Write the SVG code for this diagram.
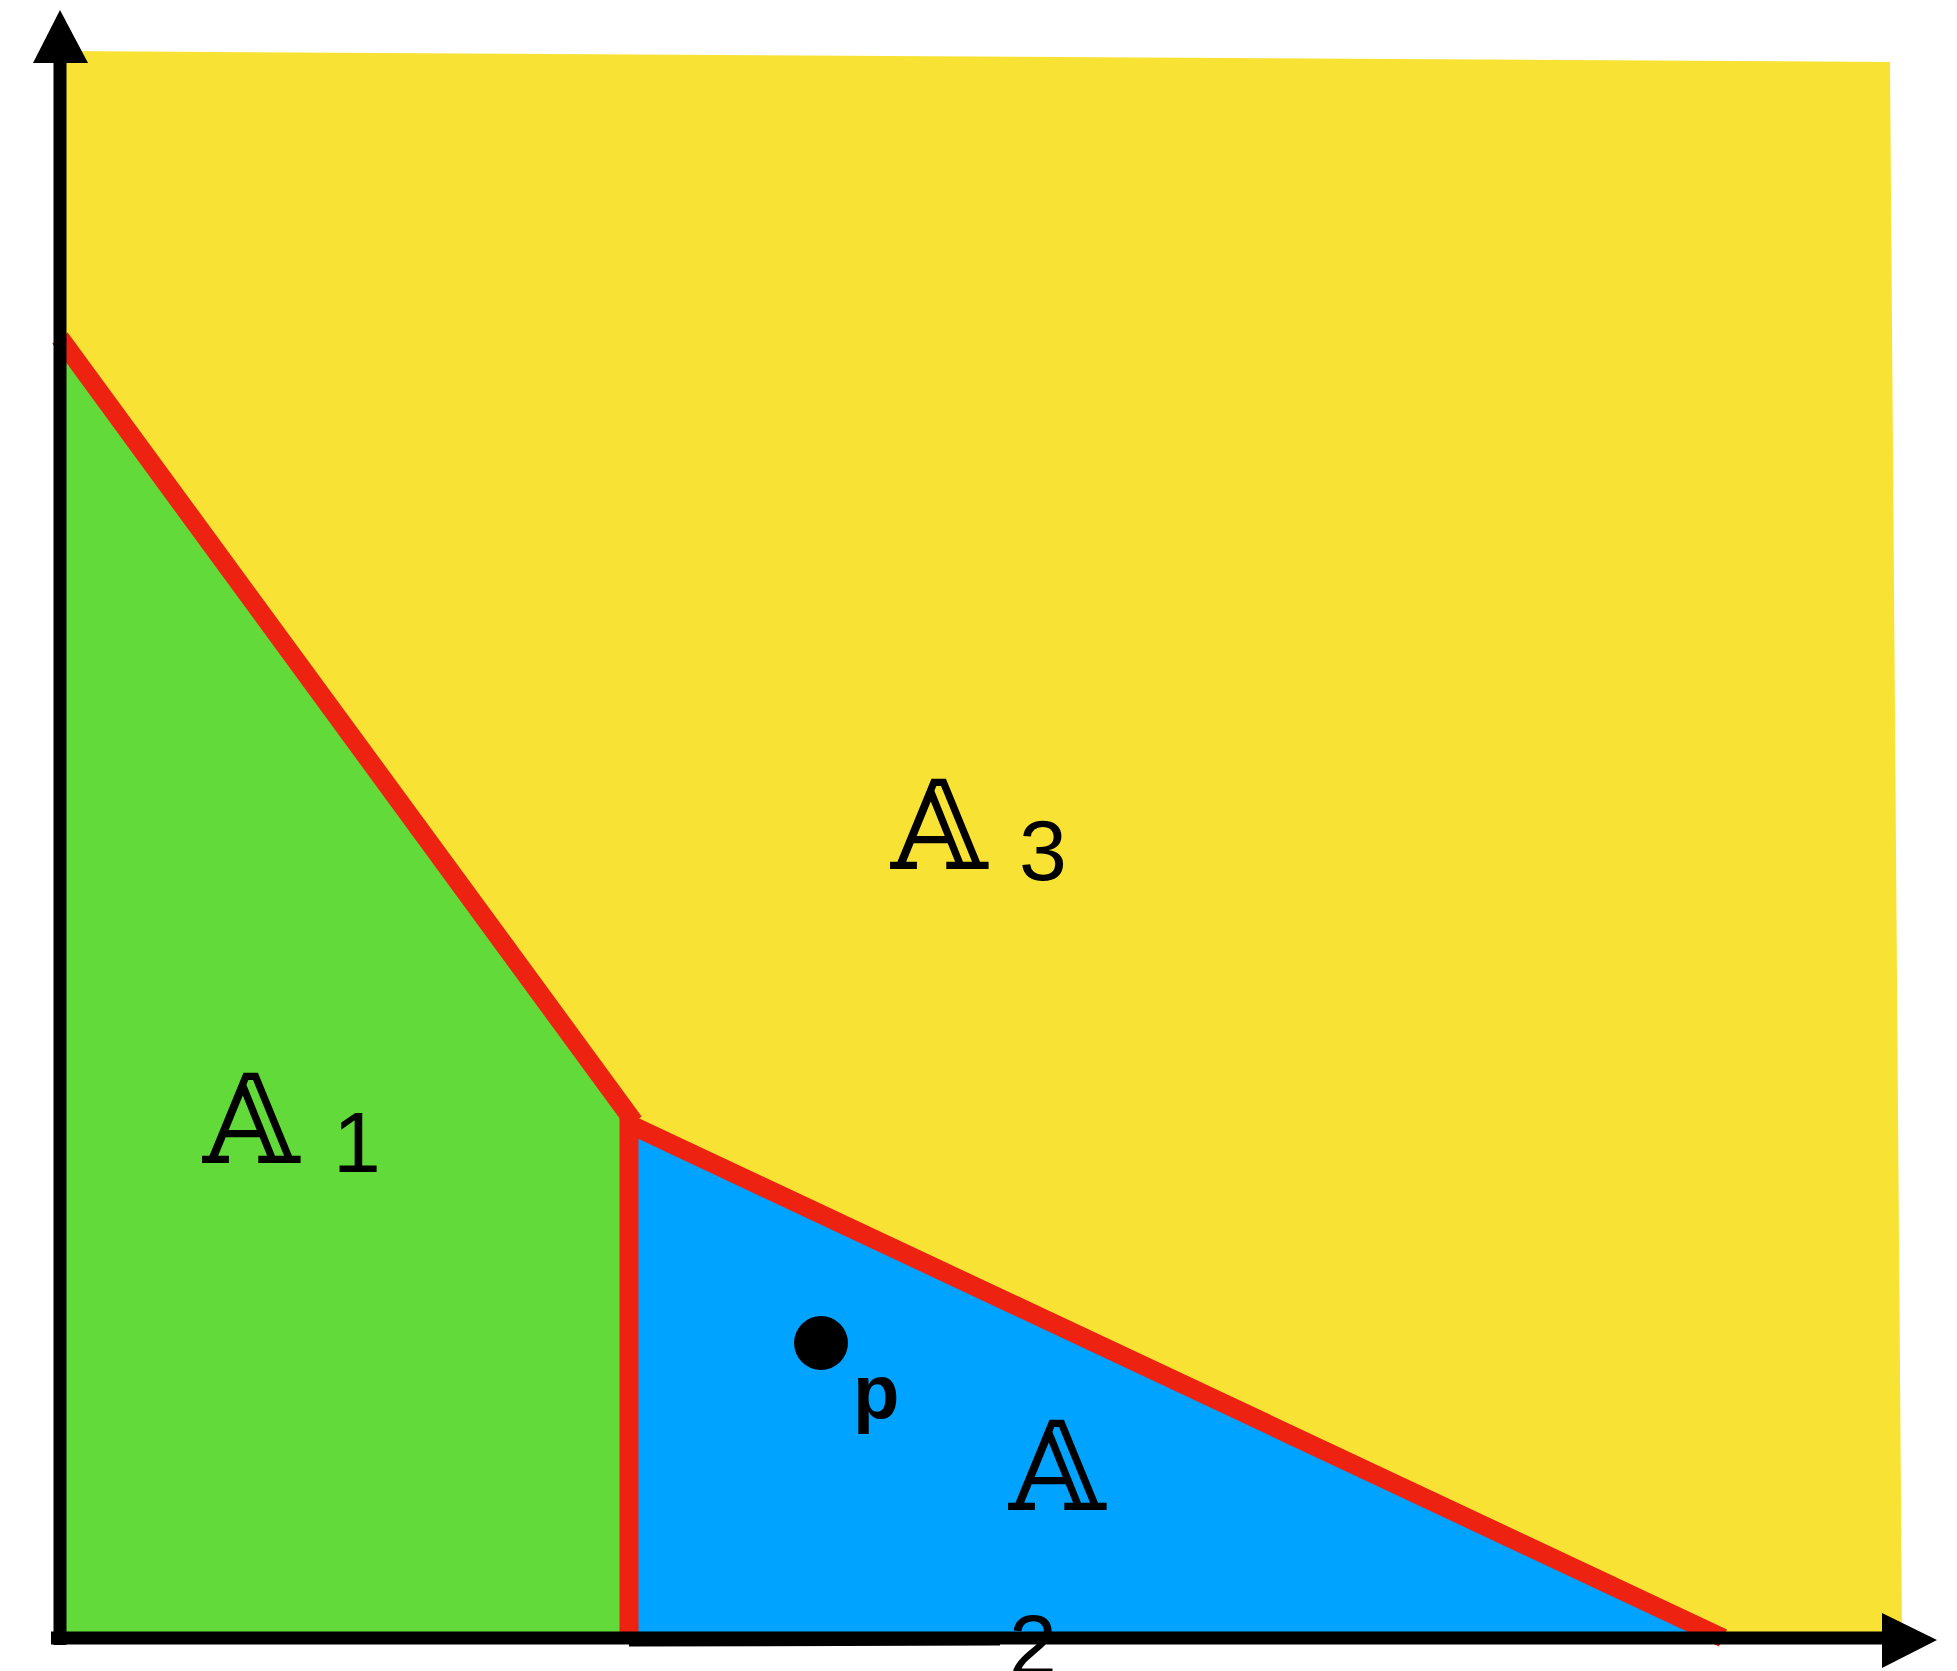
<svg xmlns="http://www.w3.org/2000/svg" width="1957" height="1671" viewBox="0 0 1957 1671">
<style>
.bb{font-family:"DejaVu Serif","DejaVu Sans","Noto Sans",serif;font-size:124px;fill:#000}
.sub{font-family:"Liberation Sans",Arial,sans-serif;font-size:86px;fill:#000}
.red{stroke:#EE2211;stroke-width:19;fill:none}
.ax{stroke:#000;stroke-width:13;fill:none}
</style>
<rect width="1957" height="1671" fill="#fff"/>
<g id="region-A3">
<polygon points="60,51 1890,62 1902,1634 60,1634" fill="#F8E335"/>
<text class="bb" x="891" y="869">𝔸</text>
<text class="sub" x="1019" y="880">3</text>
</g>
<g id="region-A1">
<polygon points="60,338 633,1120 629,1634 60,1634" fill="#61DA3A"/>
<text class="bb" x="203" y="1163">𝔸</text>
<text class="sub" x="333" y="1172">1</text>
</g>
<g id="region-A2">
<polygon points="629,1124 1723,1638 629,1638" fill="#00A3FF"/>
<text class="bb" x="1009" y="1510">𝔸</text>
<text class="sub" x="1009" y="1675">2</text>
</g>
<g id="point-p">
<circle cx="821" cy="1343" r="27" fill="#000"/>
<text x="853" y="1418" font-family="Liberation Sans, Arial, sans-serif" font-weight="bold" font-size="76">p</text>
</g>
<g id="connectors">
<line class="red" x1="60" y1="338" x2="634" y2="1122"/>
<line class="red" x1="629" y1="1124" x2="1723" y2="1638"/>
<line class="red" x1="629" y1="1114" x2="629" y2="1636"/>
<line class="ax" x1="60" y1="55" x2="60" y2="1645"/>
<polygon points="60,10 33,63 88,63" fill="#000"/>
<line class="ax" x1="51" y1="1638" x2="1890" y2="1638"/>
<line class="ax" x1="629" y1="1640" x2="1000" y2="1639"/>
<polygon points="1937,1640 1882,1613 1882,1668" fill="#000"/>
</g>
</svg>
